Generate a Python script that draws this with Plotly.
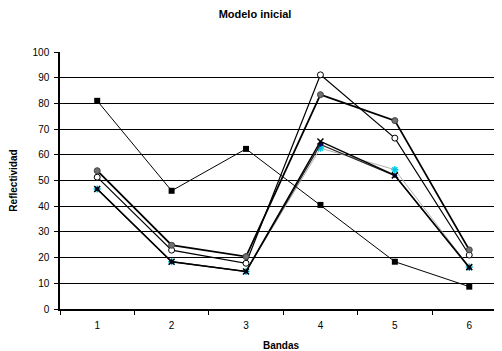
import plotly.graph_objects as go

bandas = ["1", "2", "3", "4", "5", "6"]
serie_cuadrado = [81, 46, 62.3, 40.5, 18.4, 8.7]
serie_circulo_gris = [53.8, 24.8, 20.4, 83.4, 73.3, 23]
serie_circulo_abierto = [51.3, 22.9, 17.8, 91.1, 66.5, 21]
serie_x = [46.7, 18.4, 14.6, 65.2, 52, 16.3]
serie_estrella = [46.7, 18.4, 14.6, 62.6, 54.2, 16.3]
serie_azul = [46.7, 18.4, 14.6, 64, 51.9, 16]

fig = go.Figure()

fig.add_trace(go.Scatter(x=bandas, y=serie_estrella, mode="lines+markers",
                         line=dict(color="#b0b0b0", width=1),
                         marker=dict(symbol="asterisk-open", size=6, color="#00c8e8", line=dict(width=1.5, color="#00c8e8"))))
fig.add_trace(go.Scatter(x=bandas, y=serie_azul, mode="lines+markers",
                         line=dict(color="#202020", width=1.2),
                         marker=dict(symbol="diamond", size=4, color="#000080")))
fig.add_trace(go.Scatter(x=bandas, y=serie_x, mode="lines+markers",
                         line=dict(color="black", width=1.5),
                         marker=dict(symbol="x-thin-open", size=6, color="black", line=dict(width=1.5, color="#203838"))))
fig.add_trace(go.Scatter(x=bandas, y=serie_cuadrado, mode="lines+markers",
                         line=dict(color="black", width=1),
                         marker=dict(symbol="square", size=6, color="black")))
fig.add_trace(go.Scatter(x=bandas, y=serie_circulo_abierto, mode="lines+markers",
                         line=dict(color="black", width=1.2),
                         marker=dict(symbol="circle", size=6, color="white", line=dict(width=1, color="black"))))
fig.add_trace(go.Scatter(x=bandas, y=serie_circulo_gris, mode="lines+markers",
                         line=dict(color="black", width=1.8),
                         marker=dict(symbol="circle", size=6, color="#707070", line=dict(width=1, color="#404040"))))

fig.update_layout(
    width=494, height=343,
    margin=dict(l=52, r=0, t=44, b=42),
    paper_bgcolor="white", plot_bgcolor="white",
    showlegend=False,
    font=dict(family="Liberation Sans, Arial, sans-serif", size=10, color="black"),
    title=dict(text="<b>Modelo inicial</b>", x=0.5, xanchor="center", y=0.982, yanchor="middle",
               font=dict(size=11, color="black")),
)
fig.update_xaxes(type="category", range=[-0.5, 5.44], tickson="boundaries",
                 showgrid=False, showline=True, linecolor="black", linewidth=1.5,
                 ticks="outside", ticklen=4, tickcolor="black", automargin=False,
                 ticklabelstandoff=6,
                 title=dict(text="<b>Bandas</b>", standoff=14, font=dict(size=10)),
                 tickfont=dict(size=10))
fig.update_yaxes(range=[0, 100], tickvals=list(range(0, 101, 10)),
                 showgrid=True, gridcolor="black", gridwidth=1,
                 showline=True, linecolor="black", linewidth=1.5,
                 ticks="outside", ticklen=4, tickcolor="black", automargin=False,
                 ticklabelstandoff=3,
                 zeroline=False,
                 title=dict(text="<b>Reflectividad</b>", standoff=15, font=dict(size=10)),
                 tickfont=dict(size=10))

fig.write_html("out.html")
